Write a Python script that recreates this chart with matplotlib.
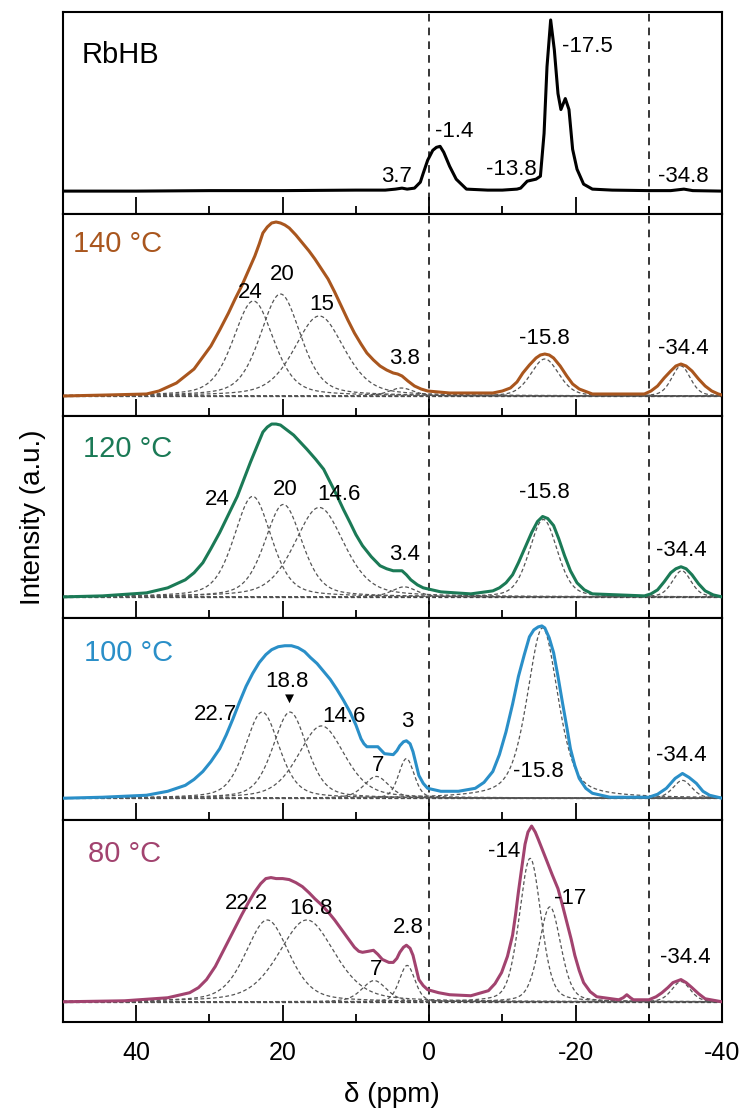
import numpy as np
import matplotlib
matplotlib.use("Agg")
import matplotlib.pyplot as plt
from matplotlib.ticker import MultipleLocator

plt.rcParams['font.family'] = ['Liberation Sans', 'DejaVu Sans']
plt.rcParams['axes.unicode_minus'] = False

# ---- spectra: (ppm, intensity) ----
spec_rb = [(50, 1), (40, 1), (30, 1.5), (20, 1.5), (10, 2), (6, 2), (4.6, 3), (3.7, 4), (3.0, 3), (2.0, 4),
           (1.2, 10), (0.8, 19), (0.2, 32), (-0.5, 42), (-1.0, 45), (-1.5, 46), (-2.0, 40), (-2.8, 26),
           (-3.7, 13), (-5.1, 3), (-8, 2), (-10, 2), (-12, 3), (-12.5, 4), (-13.4, 11), (-14.6, 13),
           (-15.2, 16), (-15.7, 59), (-16.1, 126), (-16.6, 173), (-17.1, 143), (-17.6, 99), (-18.0, 83),
           (-18.6, 94), (-19.1, 83), (-19.6, 43), (-20.2, 23), (-21.1, 8), (-22.3, 3), (-25, 2), (-30, 1.5),
           (-33, 1.5), (-34.8, 3), (-36, 1.5), (-40, 1)]

spec_140 = [(50, 0), (44, 1), (38.6, 2), (36.9, 5), (34.5, 13), (32.1, 27), (29.8, 50), (28.6, 66), (27.4, 83),
            (26.5, 97), (25.6, 110), (24.7, 125), (23.8, 140), (23.2, 152), (22.7, 163), (22.1, 169),
            (21.5, 173), (20.9, 174), (20.3, 173), (19.7, 171), (19.1, 168), (18.2, 161), (17.3, 153),
            (16.4, 145), (15.6, 137), (14.7, 127), (13.8, 117), (12.9, 104), (12.0, 90), (11.1, 76),
            (10.2, 63), (9.3, 52), (8.5, 43), (7.6, 36), (6.7, 30), (5.8, 26), (4.9, 23), (4.3, 22),
            (3.7, 20), (2.9, 15), (2.0, 10), (1.1, 7), (0.2, 5), (-1.3, 4), (-2.8, 3), (-8.7, 3),
            (-10.0, 5), (-11.1, 8), (-12.0, 14), (-12.8, 23), (-13.7, 31), (-14.6, 38), (-15.2, 41),
            (-15.8, 42), (-16.4, 41), (-17.0, 38), (-17.9, 30), (-18.8, 20), (-19.6, 12), (-20.5, 7),
            (-22.3, 2), (-29.4, 2), (-30.3, 5), (-31.2, 10), (-32.1, 18), (-33.0, 25), (-33.7, 30),
            (-34.4, 32), (-35.1, 30), (-35.9, 25), (-36.8, 17), (-37.7, 10), (-38.6, 5), (-39.5, 2), (-40, 1)]

spec_120 = [(50, 0), (44.6, 1), (38.6, 4), (35.7, 9), (33.3, 17), (32.1, 24), (30.9, 34), (29.8, 48),
            (28.6, 64), (27.4, 82), (26.2, 100), (25.3, 117), (24.4, 134), (23.5, 150), (22.7, 164),
            (22.1, 169), (21.5, 172), (20.9, 172), (20.3, 171), (19.4, 166), (18.5, 161), (17.6, 154),
            (16.7, 147), (15.5, 137), (14.4, 127), (13.5, 114), (12.6, 101), (11.7, 87), (10.8, 74),
            (10.0, 62), (9.1, 51), (7.9, 40), (6.7, 31), (5.8, 28), (4.9, 26), (3.7, 26), (3.1, 22),
            (2.5, 17), (1.6, 12), (0.8, 9), (-1.6, 5), (-5.7, 3), (-8.7, 6), (-9.6, 9), (-10.5, 14),
            (-11.4, 22), (-12.2, 34), (-13.1, 49), (-14.0, 64), (-14.8, 75), (-15.5, 80), (-16.2, 78),
            (-17.0, 71), (-17.7, 58), (-18.5, 41), (-19.3, 26), (-20.2, 14), (-21.2, 7), (-22.3, 3),
            (-29.4, 1), (-30.3, 3), (-31.2, 7), (-32.1, 15), (-33.0, 24), (-33.7, 28), (-34.4, 30),
            (-35.1, 28), (-35.9, 22), (-36.8, 13), (-37.7, 6), (-38.8, 2), (-40, 0)]

spec_100 = [(50, 0), (44.6, 1), (38.6, 3), (35.7, 7), (33.3, 13), (32.1, 19), (30.9, 27), (29.8, 37),
            (28.6, 50), (27.7, 64), (26.8, 80), (25.9, 97), (25.0, 113), (24.1, 126), (23.2, 137),
            (22.3, 145), (21.5, 150), (20.6, 153), (19.7, 154), (18.8, 154), (17.9, 152), (17.0, 148),
            (16.2, 142), (15.3, 136), (14.4, 128), (13.5, 120), (12.6, 110), (11.7, 99), (10.8, 87),
            (10.0, 74), (9.3, 60), (8.9, 55), (8.5, 52), (7.0, 52), (6.1, 45), (4.9, 44), (4.4, 48),
            (4.0, 53), (3.5, 57), (3.1, 58), (2.6, 55), (2.2, 47), (1.8, 35), (1.4, 23), (0.8, 15),
            (0.2, 10), (-1.6, 7), (-4.0, 7), (-6.3, 10), (-7.5, 16), (-8.7, 27), (-9.6, 44), (-10.5, 67),
            (-11.4, 95), (-12.2, 123), (-13.0, 145), (-13.7, 163), (-14.3, 170), (-14.9, 173),
            (-15.4, 174), (-15.8, 172), (-16.4, 162), (-17.0, 147), (-17.6, 123), (-18.2, 97),
            (-18.8, 72), (-19.3, 50), (-19.9, 33), (-20.5, 20), (-21.4, 10), (-22.3, 5), (-24.7, 1),
            (-30.0, 1), (-31.2, 4), (-32.4, 10), (-33.6, 20), (-34.6, 25), (-35.5, 21), (-36.5, 15),
            (-37.4, 7), (-38.3, 3), (-40, 0)]

spec_80 = [(50, 0), (41.6, 1), (35.7, 4), (32.7, 9), (31.5, 14), (30.4, 22), (29.2, 35), (28.0, 52),
           (26.8, 69), (25.6, 86), (24.7, 98), (23.8, 109), (23.0, 117), (22.3, 122), (21.6, 123),
           (20.9, 122), (20.0, 122), (19.1, 121), (18.2, 118), (17.3, 114), (16.4, 108), (15.6, 102),
           (14.7, 96), (13.8, 89), (12.9, 81), (12.0, 72), (11.1, 63), (10.2, 54), (9.6, 50), (9.1, 49),
           (8.3, 50), (7.6, 51), (7.0, 47), (6.4, 42), (5.5, 39), (4.9, 39), (4.4, 43), (4.0, 49),
           (3.5, 54), (3.1, 56), (2.6, 53), (2.2, 46), (1.8, 34), (1.4, 22), (0.8, 16), (0.2, 12),
           (-1.3, 9), (-2.8, 7), (-5.7, 6), (-8.1, 11), (-9.0, 18), (-9.9, 29), (-10.7, 45), (-11.4, 66),
           (-11.8, 86), (-12.2, 109), (-12.6, 130), (-13.1, 156), (-13.5, 168), (-14.0, 174),
           (-14.5, 168), (-14.9, 161), (-15.5, 150), (-16.1, 139), (-16.8, 126), (-17.6, 112),
           (-18.2, 96), (-18.8, 79), (-19.4, 62), (-19.9, 46), (-20.5, 31), (-21.1, 19), (-22.0, 10),
           (-22.9, 5), (-25.9, 2), (-26.5, 4), (-27.0, 7), (-27.5, 4), (-27.9, 2), (-30.0, 2), (-31.0, 5),
           (-31.8, 9), (-32.6, 14), (-33.3, 19), (-34.4, 22), (-35.1, 19), (-35.9, 14), (-36.8, 8),
           (-37.7, 3), (-40, 0)]

# ---- fitted components: centre (ppm), height, FWHM (ppm), Lorentzian fraction ----
c140_pos = [24.0, 20.3, 15.0, 3.8, -15.8, -34.4]
c140_amp = [95, 102, 80, 8, 37, 30]
c140_fwhm = [6.5, 6.5, 8.0, 4.0, 4.5, 3.0]
c140_eta = [0.4, 0.4, 0.4, 0.4, 0.3, 0.3]

c120_pos = [24.1, 19.9, 15.0, 3.4, -15.6, -34.5]
c120_amp = [100, 92, 89, 10, 77, 26]
c120_fwhm = [6.0, 6.0, 8.0, 4.0, 4.5, 3.0]
c120_eta = [0.4, 0.4, 0.4, 0.4, 0.3, 0.3]

c100_pos = [22.8, 19.0, 14.7, 7.2, 3.1, -15.5, -34.6]
c100_amp = [87, 87, 73, 22, 40, 172, 18]
c100_fwhm = [5.5, 5.5, 7.5, 4.0, 2.5, 5.0, 3.0]
c100_eta = [0.4, 0.4, 0.4, 0.4, 0.3, 0.5, 0.3]

c80_pos = [22.1, 16.7, 7.5, 3.0, -13.8, -16.5, -34.4]
c80_amp = [81, 81, 21, 36, 142, 94, 20]
c80_fwhm = [7.0, 9.0, 4.0, 2.5, 3.5, 3.5, 3.0]
c80_eta = [0.4, 0.4, 0.4, 0.3, 0.3, 0.3, 0.3]

# ---- peak labels: text, ppm, height ----
rb_lab = ["3.7", "-1.4", "-13.8", "-17.5", "-34.8"]
rb_lab_x = [4.4, -3.4, -11.2, -21.6, -34.7]
rb_lab_y = [16, 61, 23, 146, 16]

l140 = ["24", "20", "15", "3.8", "-15.8", "-34.4"]
l140_x = [24.4, 20.0, 14.7, 3.4, -15.8, -34.7]
l140_y = [103, 122, 92, 37, 58, 47]

l120 = ["24", "20", "14.6", "3.4", "-15.8", "-34.4"]
l120_x = [28.9, 19.7, 12.3, 3.4, -15.7, -34.4]
l120_y = [97, 107, 102, 42, 104, 46]

l100 = ["22.7", "18.8", "\u25bc", "14.6", "7", "3", "-15.8", "-34.4"]
l100_x = [29.2, 19.4, 19.1, 11.7, 7.0, 3.0, -14.9, -34.4]
l100_y = [85, 118, 100, 83, 33, 77, 27, 43]

l80 = ["22.2", "16.8", "7", "2.8", "-14", "-17", "-34.4"]
l80_x = [25.0, 16.2, 7.3, 2.8, -10.2, -19.3, -35.0]
l80_y = [97, 92, 32, 74, 149, 102, 44]

titles = ["RbHB", "140 \u00b0C", "120 \u00b0C", "100 \u00b0C", "80 \u00b0C"]
title_x = [47.4, 48.7, 47.3, 47.1, 46.6]
title_y = [138, 152, 147, 147, 146]
colors = ["black", "#a9561e", "#1b7a56", "#2a8fc8", "#a2436f"]


def lineshape(x, pos, amp, fwhm, eta):
    d = (x - pos) / fwhm
    return amp * (eta / (1 + 4 * d ** 2) + (1 - eta) * np.exp(-4 * np.log(2) * d ** 2))


panels = [
    (spec_rb, None, (rb_lab, rb_lab_x, rb_lab_y), (-22, 181)),
    (spec_140, (c140_pos, c140_amp, c140_fwhm, c140_eta), (l140, l140_x, l140_y), (-20, 182)),
    (spec_120, (c120_pos, c120_amp, c120_fwhm, c120_eta), (l120, l120_x, l120_y), (-21, 180)),
    (spec_100, (c100_pos, c100_amp, c100_fwhm, c100_eta), (l100, l100_x, l100_y), (-22, 182)),
    (spec_80, (c80_pos, c80_amp, c80_fwhm, c80_eta), (l80, l80_x, l80_y), (-20, 180)),
]

fig, axes = plt.subplots(5, 1, figsize=(7.44, 11.17), dpi=100, sharex=True)
fig.subplots_adjust(left=63 / 744, right=722 / 744, top=1 - 12 / 1117, bottom=1 - 1022 / 1117, hspace=0)

xx = np.linspace(50, -40, 1200)
for i, (ax, (spec, comps, labs, ylim)) in enumerate(zip(axes, panels)):
    sx, sy = zip(*spec)
    ax.axvline(0, color="black", ls=(0, (5, 4)), lw=1.1, zorder=1)
    ax.axvline(-30, color="black", ls=(0, (5, 4)), lw=1.1, zorder=1)
    if comps is not None:
        ax.axhline(0, color="#333333", ls=(0, (3, 2)), lw=0.9, zorder=1)
        for p, a, w, e in zip(*comps):
            ax.plot(xx, lineshape(xx, p, a, w, e), color="#555555", ls=(0, (3, 2)), lw=0.9, zorder=2)
    ax.plot(sx, sy, color=colors[i], lw=2.2, zorder=3, solid_joinstyle="round")
    for t, lx, ly in zip(*labs):
        fs = 11 if t == "\u25bc" else 16
        ax.text(lx, ly, t, ha="center", va="center", fontsize=fs, color="black",
                family=['Liberation Sans', 'DejaVu Sans'])
    ax.text(title_x[i], title_y[i], titles[i], ha="left", va="center", fontsize=21, color=colors[i])
    ax.set_ylim(*ylim)
    ax.set_xlim(50, -40)
    ax.set_yticks([])
    ax.xaxis.set_major_locator(MultipleLocator(20))
    ax.xaxis.set_minor_locator(MultipleLocator(10))
    ax.tick_params(axis="x", which="major", direction="in", length=12, width=1.3, labelsize=18, pad=14)
    ax.tick_params(axis="x", which="minor", direction="in", length=6, width=1.3)
    for s in ax.spines.values():
        s.set_linewidth(1.5)

fig.text(33 / 744, 1 - 517 / 1117, "Intensity (a.u.)", rotation=90, ha="center", va="center", fontsize=20)
fig.text(392 / 744, 1 - 1095 / 1117, "\u03b4 (ppm)", ha="center", va="center", fontsize=20)

fig.savefig("out.png", dpi=100)
